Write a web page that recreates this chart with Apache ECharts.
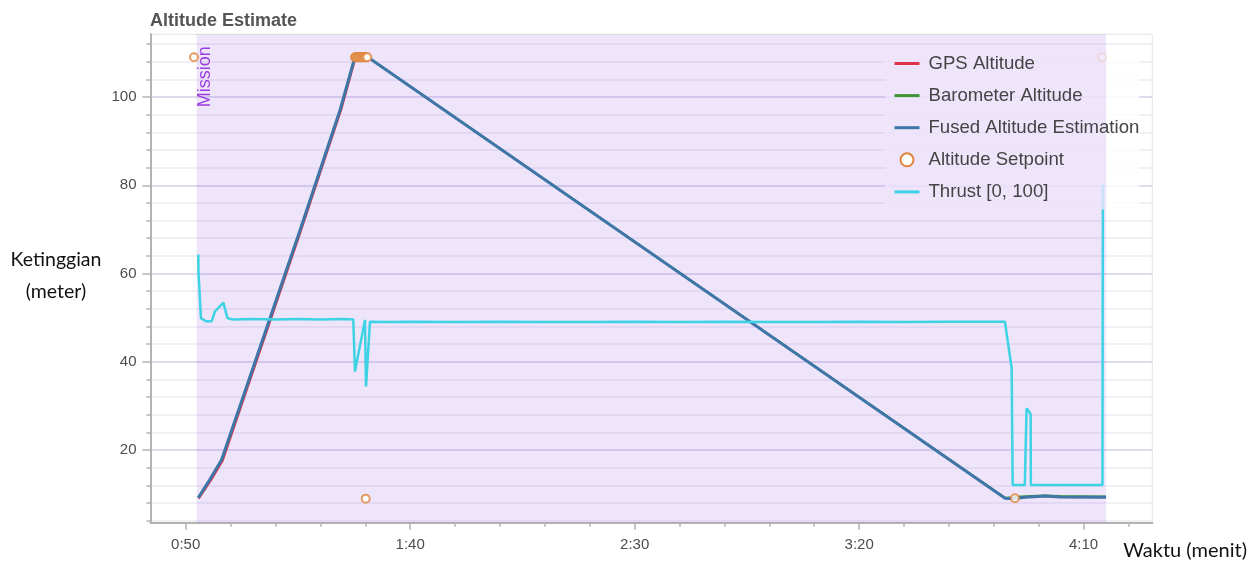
<!DOCTYPE html>
<html>
<head>
<meta charset="utf-8">
<script src="https://cdn.jsdelivr.net/npm/echarts@6/dist/echarts.min.js"></script>
<style>
html,body{margin:0;padding:0;background:#fff;}
#chart{width:1256px;height:563px;}
</style>
</head>
<body>
<div id="chart"></div>
<script>
// ---------- data (time in seconds, altitude in metres) ----------
const fusedTime = [52.8, 55.3, 58.0, 75.5, 84.4, 87.7, 90.6, 232.5, 234.3, 236.0, 238.1, 241.4, 244.7, 255.0];
const fusedAlt  = [9.2, 13.2, 17.8, 69.9, 97.1, 109.1, 109.0, 9.1, 9.0, 9.2, 9.4, 9.6, 9.4, 9.3];

const gpsTime = [52.9, 55.55, 58.25, 75.75, 84.65, 87.9, 90.6, 232.6, 234.4, 236.0, 238.1, 241.4, 244.7, 255.0];
const gpsAlt  = [9.0, 13.0, 17.6, 69.9, 97.1, 109.1, 109.0, 9.1, 9.0, 9.2, 9.4, 9.6, 9.4, 9.3];

const baroTime = [52.8, 55.3, 58.0, 75.5, 84.4, 87.7, 90.6, 232.5, 234.3, 236.0, 238.1, 241.4, 244.7, 255.0];
const baroAlt  = [9.2, 13.2, 17.8, 69.9, 97.1, 109.1, 109.0, 9.2, 9.3, 9.5, 9.6, 9.7, 9.6, 9.5];

const setpointTime = [51.85, 87.7, 87.95, 88.2, 88.45, 88.7, 88.95, 89.2, 89.45, 89.7, 89.95, 90.2, 90.45, 90.1, 234.7, 254.1];
const setpointAlt  = [109, 109, 109, 109, 109, 109, 109, 109, 109, 109, 109, 109, 109, 9.0, 9.1, 109];

const thrustTime = [52.8, 52.85, 53.4, 54.5, 55.8, 56.5, 58.4, 59.3, 60.5, 65, 70, 75, 80, 85, 87.33, 87.7, 89.93, 90.16, 91.05,
  95, 100, 110, 120, 130, 140, 150, 160, 170, 180, 190, 200, 210, 220, 232.47, 233.97, 234.2, 236.9, 237.3, 238.2, 238.25, 254.2, 254.25, 254.3];
const thrustVal  = [64.3, 60.2, 49.9, 49.2, 49.2, 51.4, 53.4, 49.9, 49.6, 49.7, 49.6, 49.7, 49.6, 49.7, 49.6, 37.8, 49.5, 34.4, 49.1,
  49.0, 49.1, 49.0, 49.1, 49.0, 49.0, 49.1, 49.0, 49.1, 49.0, 49.0, 49.1, 49.0, 49.1, 49.1, 38.6, 12.1, 12.1, 29.5, 28.2, 12.1, 12.1, 51.8, 80.1];

const missionStart = 52.45;
const missionEnd = 255.0;

const seriesNames = ['GPS Altitude', 'Barometer Altitude', 'Fused Altitude Estimation', 'Altitude Setpoint', 'Thrust [0, 100]'];

const xMin = 42.16, xMax = 265.3;
const yMin = 3.55, yMax = 114.2;
const xMajorTicks = [50, 100, 150, 200, 250];
const xMinorTicks = [60, 70, 80, 90, 110, 120, 130, 140, 160, 170, 180, 190, 210, 220, 230, 240, 260];
const yMajorTicks = [20, 40, 60, 80, 100];
const yMinorTicks = [4, 8, 12, 16, 24, 28, 32, 36, 44, 48, 52, 56, 64, 68, 72, 76, 84, 88, 92, 96, 104, 108, 112];

const zip = (a, b) => a.map((v, i) => [v, b[i]]);
const fmtTime = v => { const m = Math.floor(v / 60); const s = Math.round(v - m * 60); return m + ':' + (s < 10 ? '0' : '') + s; };

const axisGray = '#b3b3b3';
const labelStyle = { color: '#4d4d4d', fontSize: 15, fontFamily: 'Liberation Sans, Arial, sans-serif' };
const missionFill = 'rgba(140,70,230,0.14)';
const missionComposite = 'rgba(239,229,251,0.8)';

const legendLeft = 885, legendRight = 1139;
const split = (1106 - legendLeft) / (legendRight - legendLeft);

const chart = echarts.init(document.getElementById('chart'), null, { renderer: 'canvas' });
const option = {
  animation: false,
  backgroundColor: '#ffffff',
  title: {
    text: 'Altitude Estimate', left: 145, top: 7,
    textStyle: { fontSize: 18, fontWeight: 'bold', color: '#555555', fontFamily: 'Liberation Sans, Arial, sans-serif' }
  },
  grid: { left: 150.5, right: 103.7, top: 34.3, bottom: 40.3, show: true, borderColor: '#e4e4e4', borderWidth: 1, backgroundColor: 'transparent' },
  legend: {
    data: seriesNames.map(n => n === 'Altitude Setpoint'
      ? { name: n, icon: 'emptyCircle', itemStyle: { opacity: 1 } }
      : { name: n, itemStyle: { opacity: 0, color: 'rgba(0,0,0,0)', borderWidth: 0 } }),
    orient: 'vertical', left: legendLeft, top: 46, z: 7,
    padding: [8, 0, 8, 8],
    itemWidth: 25, itemHeight: 13, itemGap: 13.1,
    backgroundColor: new echarts.graphic.LinearGradient(0, 0, 1, 0, [
      { offset: 0, color: missionComposite },
      { offset: split, color: missionComposite },
      { offset: Math.min(1, split + 0.001), color: 'rgba(255,255,255,0.8)' },
      { offset: 1, color: 'rgba(255,255,255,0.8)' }
    ]),
    lineStyle: { width: 3 },
    textStyle: { fontSize: 18.6, color: '#444444', fontFamily: 'Liberation Sans, Arial, sans-serif', padding: [0, 0, 0, 4] }
  },
  xAxis: [
    {
      type: 'value', min: xMin, max: xMax, position: 'bottom',
      axisLine: { show: true, lineStyle: { color: axisGray, width: 2 } },
      axisTick: { show: true, customValues: xMajorTicks, length: 7, lineStyle: { color: axisGray, width: 1.5 } },
      axisLabel: Object.assign({ customValues: xMajorTicks, margin: 15, formatter: fmtTime }, labelStyle),
      splitLine: { show: false }
    },
    {
      type: 'value', min: xMin, max: xMax, position: 'bottom',
      axisLine: { show: false },
      axisTick: { show: true, customValues: xMinorTicks, length: 4, lineStyle: { color: axisGray, width: 1.5 } },
      axisLabel: { show: false },
      splitLine: { show: false }
    }
  ],
  yAxis: [
    {
      type: 'value', min: yMin, max: yMax, position: 'left',
      axisLine: { show: true, lineStyle: { color: axisGray, width: 2 } },
      axisTick: { show: true, customValues: yMajorTicks, length: 8, lineStyle: { color: axisGray, width: 1.5 } },
      axisLabel: Object.assign({ customValues: yMajorTicks, margin: 14 }, labelStyle),
      splitLine: { show: true, lineStyle: { color: '#d4cfea', width: 1.5 } }
    },
    {
      type: 'value', min: yMin, max: yMax, position: 'left',
      axisLine: { show: false },
      axisTick: { show: true, customValues: yMinorTicks, length: 4, lineStyle: { color: axisGray, width: 1.5 } },
      axisLabel: { show: false },
      splitLine: { show: true, lineStyle: { color: '#ecebf4', width: 1.5 } }
    }
  ],
  series: [
    {
      name: 'missionBand', type: 'custom', z: 5, silent: true, clip: true,
      data: [[missionStart, missionEnd]],
      encode: { x: [0, 1] },
      renderItem: function (params, api) {
        const p0 = api.coord([api.value(0), yMax]);
        const p1 = api.coord([api.value(1), yMin]);
        return { type: 'rect', shape: { x: p0[0], y: p0[1], width: p1[0] - p0[0], height: p1[1] - p0[1] },
                 style: { fill: missionFill } };
      }
    },
    { name: 'GPS Altitude', type: 'line', data: zip(gpsTime, gpsAlt), symbol: 'none', color: '#dc3348', lineStyle: { width: 2 }, z: 6 },
    { name: 'Barometer Altitude', type: 'line', data: zip(baroTime, baroAlt), symbol: 'none', color: '#3a9432', lineStyle: { width: 2 }, z: 6 },
    { name: 'Fused Altitude Estimation', type: 'line', data: zip(fusedTime, fusedAlt), symbol: 'none', color: '#3f76a8', lineStyle: { width: 3 }, z: 6 },
    { name: 'Altitude Setpoint', type: 'scatter', data: zip(setpointTime, setpointAlt), symbol: 'emptyCircle', symbolSize: 8,
      color: '#e0843a', itemStyle: { borderWidth: 2 }, z: 6 },
    { name: 'Thrust [0, 100]', type: 'line', data: zip(thrustTime, thrustVal), symbol: 'none', color: '#3dd2e4', lineStyle: { width: 2.5 }, z: 6 }
  ]
};
chart.setOption(option);

const mp = chart.convertToPixel({ xAxisIndex: 0, yAxisIndex: 0 }, [missionStart, yMax]);
chart.setOption({
  graphic: [
    { type: 'text', z: 10, x: mp[0] + 8.5, y: mp[1] + 12, rotation: Math.PI / 2,
      style: { text: 'Mission', fill: '#9a3fe0', font: '18px "Liberation Sans", Arial, sans-serif', align: 'right', verticalAlign: 'middle' } },
    { type: 'text', z: 10, x: 56, y: 260,
      style: { text: 'Ketinggian', fill: '#111', font: '19.5px Lato, sans-serif', align: 'center', verticalAlign: 'middle' } },
    { type: 'text', z: 10, x: 56, y: 292,
      style: { text: '(meter)', fill: '#111', font: '19.5px Lato, sans-serif', align: 'center', verticalAlign: 'middle' } },
    { type: 'text', z: 10, x: 1247, y: 551,
      style: { text: 'Waktu (menit)', fill: '#111', font: '20px Lato, sans-serif', align: 'right', verticalAlign: 'middle' } }
  ]
});
</script>
</body>
</html>
